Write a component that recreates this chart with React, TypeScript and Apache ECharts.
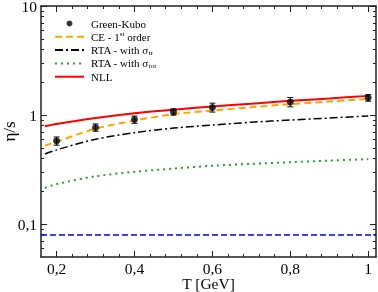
import React, { useEffect, useRef } from "react";
import * as echarts from "echarts";

// Green-Kubo points
const T_POINTS = [0.2, 0.3, 0.4, 0.5, 0.6, 0.8, 1.0];
const GK = [0.58, 0.77, 0.91, 1.07, 1.175, 1.32, 1.44];
const GK_ERR = [0.05, 0.06, 0.07, 0.07, 0.11, 0.13, 0.1];

// curves
const T_CURVE = [0.17, 0.2, 0.3, 0.4, 0.5, 0.6, 0.7, 0.8, 0.9, 1.0];
const CE = [0.525, 0.57, 0.75, 0.89, 1.02, 1.1, 1.18, 1.26, 1.33, 1.41];
const RTA_TR = [0.44, 0.48, 0.6, 0.69, 0.76, 0.81, 0.86, 0.9, 0.94, 0.98];
const RTA_TOT = [0.215, 0.233, 0.275, 0.302, 0.323, 0.343, 0.357, 0.37, 0.382, 0.395];
const NLL = [0.79, 0.83, 0.94, 1.04, 1.12, 1.2, 1.27, 1.35, 1.42, 1.5];

// KSS bound 1/(4 pi)
const KSS_T = [0.16, 1.02];
const KSS = [0.0796, 0.0796];

// axes
const X_MIN = 0.16;
const X_MAX = 1.02;
const Y_MIN = 0.05;
const Y_MAX = 10;
const X_MAJOR = [0.2, 0.4, 0.6, 0.8, 1.0];
const X_MINOR = [0.24, 0.28, 0.32, 0.36, 0.44, 0.48, 0.52, 0.56, 0.64, 0.68, 0.72, 0.76, 0.84, 0.88, 0.92, 0.96];
const Y_MAJOR = [0.1, 1, 10];
const Y_MINOR = [0.06, 0.07, 0.08, 0.09, 0.2, 0.3, 0.4, 0.5, 0.6, 0.7, 0.8, 0.9, 2, 3, 4, 5, 6, 7, 8, 9];

const FONT = "Liberation Serif";

const fmt = (v: number) => String(+v.toFixed(2)).replace(".", ",");

export default function App() {
  const ref = useRef<HTMLDivElement>(null);
  useEffect(() => {
    if (!ref.current) return;
    const chart = echarts.init(ref.current, undefined, { renderer: "svg" });
    const frame = { show: true, onZero: false, lineStyle: { color: "#222", width: 1.5 } };
    const mkX = (pos: string, major: boolean, labels: boolean, name?: string) => ({
      type: "value",
      min: X_MIN,
      max: X_MAX,
      position: pos,
      axisLine: major ? frame : { show: false },
      splitLine: { show: false },
      axisTick: {
        show: true,
        inside: true,
        length: major ? 6 : 3,
        customValues: major ? X_MAJOR : X_MINOR,
        lineStyle: { color: "#222", width: 1 },
      },
      axisLabel: labels
        ? {
            show: true,
            customValues: X_MAJOR,
            formatter: fmt,
            fontFamily: FONT,
            fontSize: 15.5,
            lineHeight: 12,
            color: "#000",
            margin: 5,
          }
        : { show: false },
      name: name || "",
      nameLocation: "middle",
      nameGap: 19,
      nameMoveOverlap: false,
      nameTextStyle: { fontFamily: FONT, fontSize: 15.5, color: "#000", verticalAlign: "top", lineHeight: 15 },
    });
    const mkY = (pos: string, major: boolean, labels: boolean, name?: string) => ({
      type: "log",
      logBase: 10,
      min: Y_MIN,
      max: Y_MAX,
      position: pos,
      axisLine: major ? frame : { show: false },
      splitLine: { show: false },
      minorTick: { show: false },
      axisTick: {
        show: true,
        inside: true,
        length: major ? 6 : 3,
        customValues: major ? Y_MAJOR : Y_MINOR,
        lineStyle: { color: "#222", width: 1 },
      },
      axisLabel: labels
        ? {
            show: true,
            customValues: Y_MAJOR,
            formatter: fmt,
            fontFamily: FONT,
            fontSize: 15.5,
            lineHeight: 5,
            padding: [5, 0, 0, 0],
            color: "#000",
            margin: 4,
          }
        : { show: false },
      name: name || "",
      nameLocation: "middle",
      nameGap: 23,
      nameRotate: 90,
      nameMoveOverlap: false,
      nameTextStyle: { fontFamily: FONT, fontSize: 17, color: "#000" },
    });
    const line = (name: string, ys: number[], color: string, type: any, width: number) => ({
      name,
      type: "line",
      data: T_CURVE.map((t, i) => [t, ys[i]]),
      smooth: 0.3,
      symbol: "none",
      lineStyle: { color, type, width },
      itemStyle: { color },
      z: 3,
    });
    const richSmall = { fontFamily: FONT, fontSize: 7, color: "#000", lineHeight: 13 };
    const names: Record<string, string> = {
      "Green-Kubo": "Green-Kubo",
      "CE - 1st order": "CE - 1{sup|st} order",
      "RTA - with σtr": "RTA - with σ{sub|tr}",
      "RTA - with σtot": "RTA - with σ{sub|tot}",
      NLL: "NLL",
    };
    const hideSym = { opacity: 0 };
    chart.setOption({
      animation: false,
      grid: { left: 41, right: 2, top: 6, bottom: 35, containLabel: false, outerBoundsMode: "none" },
      xAxis: [
        mkX("bottom", true, true, "T [GeV]"),
        mkX("bottom", false, false),
        mkX("top", true, false),
        mkX("top", false, false),
      ],
      yAxis: [
        mkY("left", true, true, "η/s"),
        mkY("left", false, false),
        mkY("right", true, false),
        mkY("right", false, false),
      ],
      legend: {
        orient: "vertical",
        left: 54,
        top: 17,
        itemWidth: 29,
        itemHeight: 6,
        itemGap: 0.3,
        padding: 0,
        data: [
          { name: "Green-Kubo" },
          { name: "CE - 1st order", itemStyle: hideSym },
          { name: "RTA - with σtr", itemStyle: hideSym },
          { name: "RTA - with σtot", itemStyle: hideSym },
          { name: "NLL", itemStyle: hideSym },
        ],
        formatter: (n: string) => names[n] || n,
        textStyle: {
          fontFamily: FONT,
          fontSize: 11,
          color: "#000",
          lineHeight: 13,
          padding: [0, 0, 0, 2],
          rich: {
            sup: { ...richSmall, verticalAlign: "top" },
            sub: { ...richSmall, verticalAlign: "bottom" },
          },
        },
      },
      series: [
        {
          name: "Green-Kubo",
          type: "scatter",
          data: T_POINTS.map((t, i) => [t, GK[i]]),
          symbol: "circle",
          symbolSize: 7,
          itemStyle: { color: "#000" },
          z: 5,
        },
        {
          name: "errors",
          type: "custom",
          data: T_POINTS.map((t, i) => [t, GK[i] - GK_ERR[i], GK[i] + GK_ERR[i]]),
          encode: { x: 0, y: [1, 2] },
          z: 4,
          renderItem: (params: any, api: any) => {
            const x = api.value(0);
            const lo = api.coord([x, api.value(1)]);
            const hi = api.coord([x, api.value(2)]);
            const st = { stroke: "#111", lineWidth: 1 };
            const w = 3;
            return {
              type: "group",
              children: [
                { type: "line", shape: { x1: lo[0], y1: lo[1], x2: hi[0], y2: hi[1] }, style: st },
                { type: "line", shape: { x1: lo[0] - w, y1: lo[1], x2: lo[0] + w, y2: lo[1] }, style: st },
                { type: "line", shape: { x1: hi[0] - w, y1: hi[1], x2: hi[0] + w, y2: hi[1] }, style: st },
              ],
            };
          },
        },
        line("CE - 1st order", CE, "#ffa500", [7, 4], 2),
        line("RTA - with σtr", RTA_TR, "#000000", [8, 3, 2, 3], 1.5),
        line("RTA - with σtot", RTA_TOT, "#1fa51f", [2, 4], 2),
        line("NLL", NLL, "#ff0000", "solid", 2),
        {
          name: "KSS",
          type: "line",
          data: KSS_T.map((t, i) => [t, KSS[i]]),
          symbol: "none",
          lineStyle: { color: "#0000ff", type: [6, 3], width: 1.5 },
          z: 3,
        },
      ],
    });
    return () => chart.dispose();
  }, []);
  return <div ref={ref} style={{ position: "fixed", left: 0, top: 0, width: 378, height: 292 }} />;
}
